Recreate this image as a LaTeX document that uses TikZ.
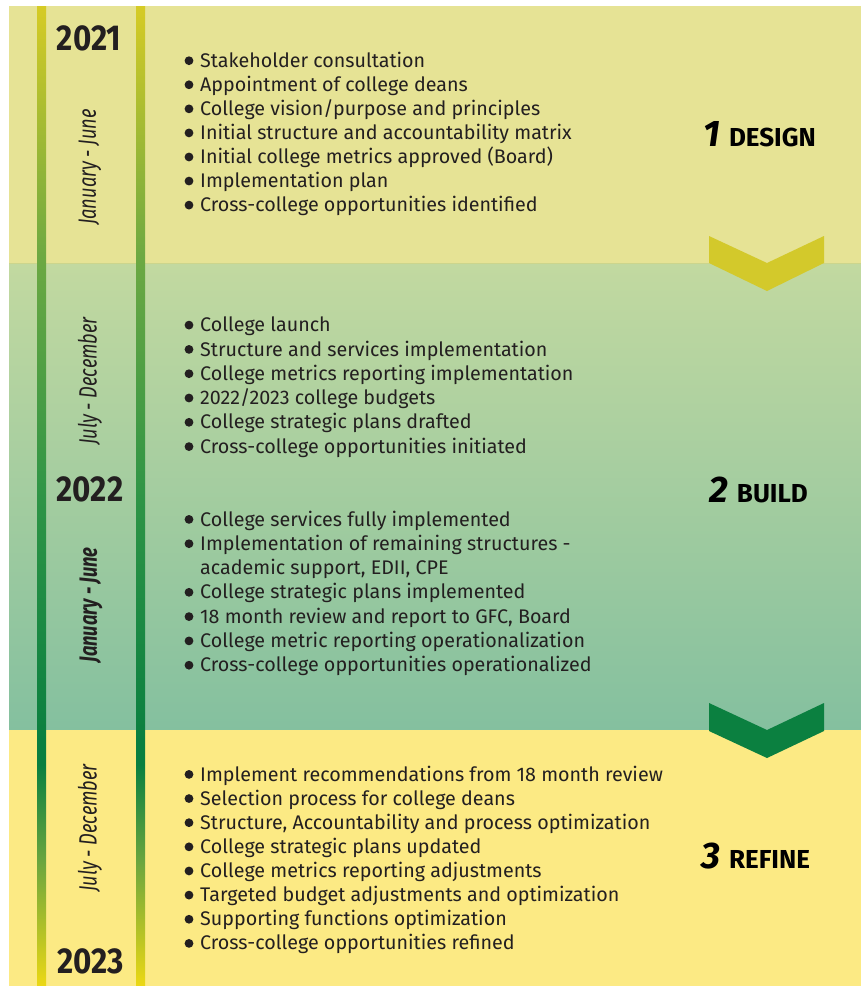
\documentclass[tikz,border=0pt]{standalone}
\usepackage{fontspec}
\setmainfont{Fira Sans}
\newfontfamily\yearf[FakeStretch=0.87]{Fira Sans}
\newfontfamily\condf[FakeStretch=0.73]{Fira Sans}
\definecolor{txt}{HTML}{231F20}
\definecolor{sA}{HTML}{E6E395}
\definecolor{sBt}{HTML}{C2D9A0}
\definecolor{sBb}{HTML}{84C09F}
\definecolor{sC}{HTML}{FCEA84}
\definecolor{lineA}{HTML}{CCD58C}
\definecolor{chevA}{HTML}{D3C92B}
\definecolor{chevB}{HTML}{0B8040}
\definecolor{bA}{HTML}{D6CB25}
\definecolor{bB}{HTML}{6BA843}
\definecolor{bC}{HTML}{2E9446}
\definecolor{bD}{HTML}{0A7F40}
\definecolor{bE}{HTML}{6AA53F}
\definecolor{bF}{HTML}{ECD814}
\pgfdeclareverticalshading{barshade}{100bp}{color(0bp)=(bF); color(25bp)=(bF); color(31.4bp)=(bE); color(36.3bp)=(bD); color(37.5bp)=(bD); color(49.8bp)=(bC); color(61.9bp)=(bB); color(75bp)=(bA); color(100bp)=(bA)}
\tikzset{
  item/.style={inner sep=0pt, anchor=base west, text=txt, font=\fontsize{19.7}{19.7}\selectfont},
  yearlbl/.style={inner sep=0pt, text=txt, font=\yearf\bfseries\fontsize{36}{36}\selectfont},
  period/.style={inner sep=0pt, rotate=90, text=txt, font=\condf\itshape\fontsize{25}{25}\selectfont},
  periodb/.style={period, font=\condf\bfseries\itshape\fontsize{25}{25}\selectfont},
  phase/.style={inner sep=0pt, anchor=base west, text=black},
  bul/.style={fill=txt},
}
\newcommand{\phaselbl}[2]{{\fontsize{37}{37}\selectfont\bfseries\itshape #1}\hspace{9pt}{\fontsize{26}{26}\selectfont\bfseries #2}}
\begin{document}
\begin{tikzpicture}[x=1pt,y=-1pt]
\useasboundingbox (0,0) rectangle (861,986);
% panels
\fill[sA] (9,6) rectangle (861,263);
\shade[top color=sBt, bottom color=sBb] (9,263) rectangle (861,730);
\fill[sC] (9,730) rectangle (861,986);
\draw[lineA, line width=0.8pt] (9,263) -- (861,263);
% timeline bars
\shade[shading=barshade] (37,6) rectangle (46,986);
\shade[shading=barshade] (136,6) rectangle (145,986);
% years
\node[yearlbl] (y21) at (89,38) {2021};
\node[yearlbl] (y22) at (90,489) {2022};
\node[yearlbl] (y23) at (90.5,961) {2023};
% periods
\node[period] (p1) at (90,167) {January - June};
\node[period] (p2) at (90,381) {July - December};
\node[periodb] (p3) at (91,605) {January - June};
\node[period] (p4) at (90,828) {July - December};
% chevrons
\fill[chevA] (709,236) -- (767,263) -- (824,236) -- (824,263) -- (767,291) -- (709,263) -- cycle;
\fill[chevB] (709,703) -- (767,730) -- (824,703) -- (824,731) -- (767,758) -- (709,731) -- cycle;
% phase labels
\node[phase] (ph1) at (703,146.7) {\phaselbl{1}{DESIGN}};
\node[phase] (ph2) at (709,502) {\phaselbl{2}{BUILD}};
\node[phase] (ph3) at (701,868) {\phaselbl{3}{REFINE}};
% section 1
\foreach \t [count=\i] in {Stakeholder consultation, Appointment of college deans, College vision/purpose and principles, Initial structure and accountability matrix, Initial college metrics approved (Board), Implementation plan, Cross-college opportunities identified}{
  \node[item] (a\i) at (200,{67.3+24.07*(\i-1)}) {\t};
  \fill[bul] (189,{60.7+24.07*(\i-1)}) circle (4.4pt);
}
% section 2a
\foreach \t [count=\i] in {College launch, Structure and services implementation, College metrics reporting implementation, 2022/2023 college budgets, College strategic plans drafted, Cross-college opportunities initiated}{
  \node[item] (b\i) at (200,{331.7+24.3*(\i-1)}) {\t};
  \fill[bul] (189,{325.1+24.3*(\i-1)}) circle (4.4pt);
}
% section 2b
\foreach \t/\b [count=\i] in {{College services fully implemented}/1, {Implementation of remaining structures -}/1, {academic support, EDII, CPE}/0, {College strategic plans implemented}/1, {18 month review and report to GFC, Board}/1, {College metric reporting operationalization}/1, {Cross-college opportunities operationalized}/1}{
  \node[item] (c\i) at (200,{526+24.3*(\i-1)}) {\t};
  \ifnum\b=1 \fill[bul] (189,{519.4+24.3*(\i-1)}) circle (4.4pt);\fi
}
% section 3
\foreach \t [count=\i] in {Implement recommendations from 18 month review, Selection process for college deans, {Structure, Accountability and process optimization}, College strategic plans updated, College metrics reporting adjustments, Targeted budget adjustments and optimization, Supporting functions optimization, Cross-college opportunities refined}{
  \node[item] (d\i) at (200,{781+24.14*(\i-1)}) {\t};
  \fill[bul] (189,{774.4+24.14*(\i-1)}) circle (4.4pt);
}
\end{tikzpicture}
\end{document}
